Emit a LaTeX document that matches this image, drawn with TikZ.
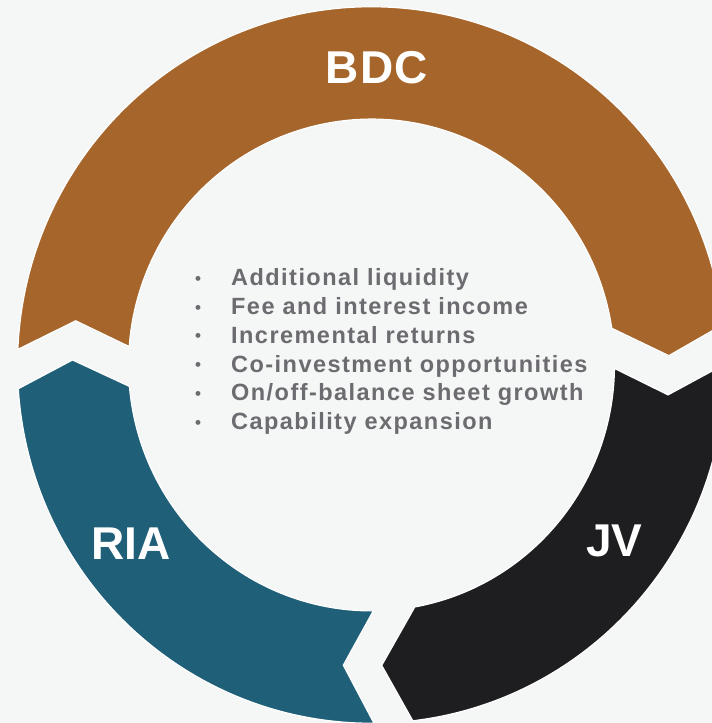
\documentclass[tikz,border=0pt]{standalone}
\usepackage{fontspec}
\setmainfont{Liberation Sans}
\newfontfamily\itemfont{Liberation Sans}[LetterSpace=6.2]
\newfontfamily\lblfont{Liberation Sans}
\definecolor{bgc}{RGB}{245,246,246}
\definecolor{bdccol}{RGB}{166,101,43}
\definecolor{riacol}{RGB}{31,95,120}
\definecolor{jvcol}{RGB}{30,29,32}
\definecolor{itemgray}{RGB}{108,107,112}
\newcommand{\itembullet}{\makebox[36pt][l]{\raisebox{1.5pt}{\fontsize{17}{17}\selectfont •}}}
\begin{document}
\begin{tikzpicture}[x=1pt,y=1pt,
  seg/.style={draw=white,line width=1.2pt,line join=miter},
  lbl/.style={text=white,font=\lblfont\bfseries\fontsize{46}{46}\selectfont,inner sep=0pt,anchor=base},
  item/.style={text=itemgray,font=\itemfont\bfseries\fontsize{23.5}{27}\selectfont,inner sep=0pt,anchor=base west}]
\fill[bgc] (0,0) rectangle (712,723);
\useasboundingbox (0,0) rectangle (712,723);
\begin{scope}[shift={(371.5,358)},yscale=1.012]
  % BDC (top half)
  \path[seg,fill=bdccol] (177.5:354) arc[start angle=177.5,end angle=6.5,radius=354]
    -- (1.78:297.5) -- (8.6:243) arc[start angle=8.6,end angle=175.7,radius=243]
    -- (171.6:299) -- cycle;
  % JV (bottom right)
  \path[seg,fill=jvcol] (0.2:354) arc[start angle=0.2,end angle=-83.3,radius=354]
    -- (-88.03:297) -- (-79.74:243) arc[start angle=-79.74,end angle=-0.8,radius=243]
    -- (-5.69:298) -- cycle;
  % RIA (bottom left)
  \path[seg,fill=riacol] (-89.6:354) arc[start angle=-89.6,end angle=-176.2,radius=354]
    -- (-180.95:299) -- (-175:243) arc[start angle=-175,end angle=-89.58,radius=243]
    -- (-95.43:298) -- cycle;
\end{scope}
\node[lbl] (bdc) at (377,639.7) {\addfontfeatures{LetterSpace=3}BDC};
\node[lbl] (ria) at (131,163.7) {RIA};
\node[lbl] (jv) at (614.3,166.5) {JV};
\node[item] (l1) at (195,437.2) {\itembullet Additional liquidity};
\node[item] (l2) at (195,408.4) {\itembullet Fee and interest income};
\node[item] (l3) at (195,379.6) {\itembullet Incremental returns};
\node[item] (l4) at (195,350.8) {\itembullet Co-investment opportunities};
\node[item] (l5) at (195,322.0) {\itembullet On/off-balance sheet growth};
\node[item] (l6) at (195,293.2) {\itembullet Capability expansion};
\end{tikzpicture}
\end{document}
